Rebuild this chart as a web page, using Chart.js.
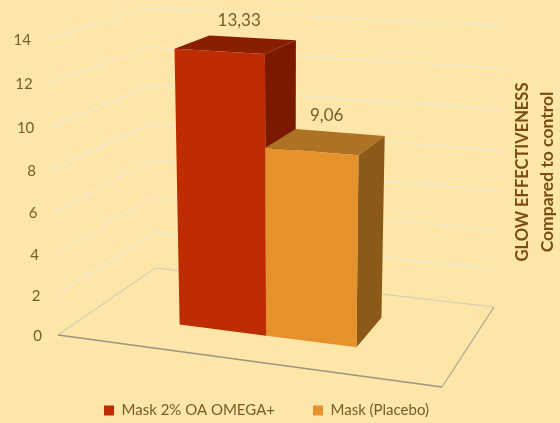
<!DOCTYPE html>
<html>
<head>
<meta charset="utf-8">
<style>
  html, body { margin: 0; padding: 0; background: #fee6a8; }
  #wrap { position: relative; width: 560px; height: 423px; }
</style>
<script src="https://cdn.jsdelivr.net/npm/chart.js@4/dist/chart.umd.min.js"></script>
</head>
<body>
<div id="wrap"><canvas id="chart" width="560" height="423"></canvas></div>
<script>
  const SERIES_NAMES = ['Mask 2% OA OMEGA+', 'Mask (Placebo)'];
  const SERIES_VALUES = [13.33, 9.06];
  const Y_MAX = 14;
  const Y_STEP = 2;
  const AXIS_TITLE = ['GLOW EFFECTIVENESS', 'Compared to control'];

  const TEXT = '#7a5a2c';
  const FACES = [
    { front: '#bd2c02', top: '#8a1f00', side: '#7a1800' },
    { front: '#e5922c', top: '#ad7225', side: '#8c5a18' },
  ];

  // Corners of the 3D box on screen
  const BOX = {
    floorFrontL: [58, 335], floorFrontR: [442, 387], floorBackL: [155, 268], floorBackR: [494, 307],
    topFrontL: [47, 39], topFrontR: [448, 62], topBackL: [148, 8], topBackR: [506, 26],
  };
  const BAR_DEPTH = [0.33, 0.716];
  const warp = (t, k) => t / (t + (1 - t) * k);   // foreshortening along an edge

  function lerp(a, b, t) { return [a[0] + (b[0] - a[0]) * t, a[1] + (b[1] - a[1]) * t]; }

  // u, v are 0..1 in the flat chart area, w is 0 at the front, 1 at the back
  function project(u, v, w) {
    const uu = warp(u, 1.096);
    const vv = warp(v, 1.06);
    const floor = lerp(lerp(BOX.floorFrontL, BOX.floorFrontR, uu), lerp(BOX.floorBackL, BOX.floorBackR, uu), w);
    const top = lerp(lerp(BOX.topFrontL, BOX.topFrontR, uu), lerp(BOX.topBackL, BOX.topBackR, uu), w);
    return lerp(floor, top, vv);
  }

  function path(ctx, pts, color, width) {
    ctx.beginPath();
    pts.forEach((p, i) => (i ? ctx.lineTo(p[0], p[1]) : ctx.moveTo(p[0], p[1])));
    if (width) {
      ctx.strokeStyle = color;
      ctx.lineWidth = width;
      ctx.stroke();
    } else {
      ctx.closePath();
      ctx.fillStyle = color;
      ctx.fill();
    }
  }

  const box3d = {
    id: 'box3d',
    beforeDatasetsDraw(chart) {
      const { ctx, chartArea: area, scales } = chart;
      const yNorm = px => (area.bottom - px) / (area.bottom - area.top);
      const xNorm = px => (px - area.left) / (area.right - area.left);
      const [w0, w1] = BAR_DEPTH;

      ctx.save();

      // walls
      scales.y.ticks.forEach(t => {
        const v = yNorm(scales.y.getPixelForValue(t.value));
        if (t.value === 0) return;
        path(ctx, [project(0, v, 0), project(0, v, 1), project(1, v, 1)], '#ece5d2', 1.2);
      });

      // floor
      path(ctx, [project(0, 0, 0), project(0, 0, 1), project(1, 0, 1)], '#d2ccb8', 1.2);
      path(ctx, [project(1, 0, 1), project(1, 0, 0)], '#aaa48f', 1.2);
      path(ctx, [project(0, 0, 0), project(1, 0, 0)], '#9b9580', 1.3);

      // bars, back to front
      chart.data.datasets.forEach((ds, i) => {
        const el = chart.getDatasetMeta(i).data[0];
        const l = xNorm(el.x - el.width / 2);
        const r = xNorm(el.x + el.width / 2);
        const v = yNorm(el.y);
        const b = yNorm(el.base);
        const c = FACES[i];
        path(ctx, [project(r, b, w0), project(r, b, w1), project(r, v, w1), project(r, v, w0)], c.side);
        path(ctx, [project(l, v, w0), project(r, v, w0), project(r, v, w1), project(l, v, w1)], c.top);
        path(ctx, [project(l, b, w0), project(r, b, w0), project(r, v, w0), project(l, v, w0)], c.front);
      });

      // tick labels
      ctx.fillStyle = TEXT;
      ctx.font = '15px Lato';
      ctx.textAlign = 'right';
      ctx.textBaseline = 'middle';
      scales.y.ticks.forEach(t => {
        const p = project(0, yNorm(scales.y.getPixelForValue(t.value)), 0);
        ctx.fillText(t.label, p[0] - 16, p[1] + 1);
      });

      // value labels
      ctx.font = '17px Lato';
      ctx.textAlign = 'center';
      chart.data.datasets.forEach((ds, i) => {
        const el = chart.getDatasetMeta(i).data[0];
        const p = project(xNorm(el.x), yNorm(el.y), w1);
        ctx.fillText(ds.data[0].toFixed(2).replace('.', ','), p[0] - 13, p[1] - 17);
      });

      // axis title on the right
      ctx.fillStyle = '#7b4c14';
      AXIS_TITLE.forEach((line, i) => {
        ctx.save();
        ctx.font = i ? 'bold 17.5px Lato' : 'bold 16.5px Lato';
        ctx.translate(523 + i * 24, 172);
        ctx.rotate(-Math.PI / 2);
        ctx.fillText(line, 0, 0);
        ctx.restore();
      });

      ctx.restore();
      return false;
    },
  };

  new Chart(document.getElementById('chart'), {
    type: 'bar',
    data: {
      labels: [''],
      datasets: SERIES_NAMES.map((name, i) => ({
        label: name,
        data: [SERIES_VALUES[i]],
        backgroundColor: FACES[i].front,
        categoryPercentage: 0.48,
        barPercentage: 1,
      })),
    },
    options: {
      responsive: false,
      animation: false,
      layout: { padding: { right: 27, bottom: -5 } },
      plugins: {
        tooltip: { enabled: false },
        legend: {
          position: 'bottom',
          labels: { boxWidth: 10, boxHeight: 10, color: TEXT, font: { family: 'Lato', size: 15 }, padding: 38 },
        },
      },
      scales: {
        x: { display: false },
        y: { min: 0, max: Y_MAX, ticks: { stepSize: Y_STEP, display: false }, grid: { display: false }, border: { display: false } },
      },
    },
    plugins: [box3d],
  });
</script>
</body>
</html>
